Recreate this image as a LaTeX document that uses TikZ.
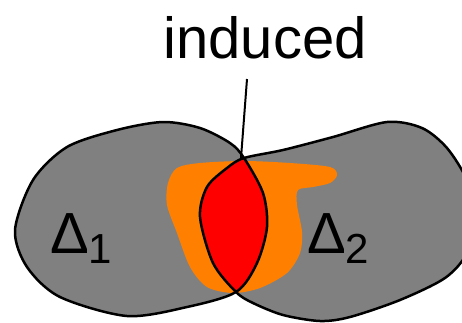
\documentclass[tikz,border=0pt]{standalone}
\usepackage{fontspec}
\setmainfont{Liberation Sans}
\definecolor{blobgray}{RGB}{128,128,128}
\definecolor{overlaporange}{RGB}{255,128,0}

% the two regions, in picture units (x to the right, y downward)
\newcommand{\leftblob}{plot[smooth cycle] coordinates {(244,158) (263,193) (267,227) (257,263) (236,292) (187,307) (127,316) (60,297) (27,267) (15,230) (33,180) (67,147) (117,130) (163,122) (200,128) (230,143)}}
\newcommand{\rightblob}{plot[smooth cycle] coordinates {(244,158) (283,150) (333,137) (387,122) (422,128) (447,148) (467,180) (476,215) (467,253) (445,278) (400,300) (350,317) (320,321) (283,315) (253,303) (236,292) (213,263) (200,217) (207,187) (227,168)}}

\begin{document}
\begin{tikzpicture}[x=1pt,y=-1pt,line width=2.5pt,
  label/.style={inner sep=0pt,font=\fontsize{58}{60}\selectfont}]
\useasboundingbox (0,0) rectangle (462,322);
\clip (0,0) rectangle (462,322);
\coordinate (top) at (244,158);
\coordinate (tail) at (247,79);
\fill[blobgray] \leftblob;
\fill[blobgray] \rightblob;
\fill[overlaporange] plot[smooth cycle] coordinates {(177,168) (200,163) (244,161) (290,163) (330,167) (337,175) (330,183) (313,187) (298,190) (297,205) (302,232) (300,253) (287,273) (260,288) (233,293) (207,287) (190,267) (177,233) (167,205) (168,183)};
\begin{scope}
\clip \leftblob;
\fill[red] \rightblob;
\end{scope}
\draw \leftblob;
\draw \rightblob;
\node[label, anchor=base] (induced) at (265,58) {induced};
\draw[line width=2pt] (tail) -- ([xshift=-3pt]top);
\node[label, anchor=base west] (delta1) at (49,253) {Δ\raisebox{-10pt}{\fontsize{42}{44}\selectfont 1}};
\node[label, anchor=base west] (delta2) at (306,253) {Δ\raisebox{-10pt}{\fontsize{42}{44}\selectfont 2}};
\end{tikzpicture}
\end{document}
